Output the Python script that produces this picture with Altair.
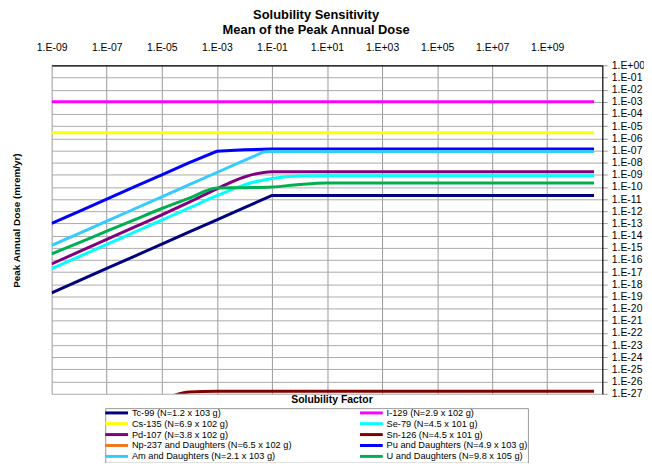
import altair as alt
import pandas as pd

# ---- data ----
# legend order (column-major, 2 columns)
series_names = [
    "Tc-99 (N=1.2 x 103 g)", "Cs-135 (N=6.9 x 102 g)", "Pd-107 (N=3.8 x 102 g)",
    "Np-237 and Daughters (N=6.5 x 102 g)", "Am and Daughters (N=2.1 x 103 g)",
    "I-129 (N=2.9 x 102 g)", "Se-79 (N=4.5 x 101 g)", "Sn-126 (N=4.5 x 101 g)",
    "Pu and Daughters (N=4.9 x 103 g)", "U and Daughters (N=9.8 x 105 g)",
]
series_colors = ["#000080", "#FFFF00", "#800080", "#F07820", "#33CCFF",
                 "#FF00FF", "#00FFFF", "#800000", "#0000FF", "#00B050"]

solubility = [1e-9, 1e-8, 1e-7, 1e-6, 1e-5, 1e-4, 1e-3, 1e-2, 1e-1, 1e0, 1e1,
              1e2, 1e3, 1e4, 1e5, 1e6, 1e7, 1e8, 1e9, 1e10, 5e10]
solubility_am = [1e-9, 1e-8, 1e-7, 1e-6, 1e-5, 1e-4, 1e-3, 1e-2, 5e-2, 1e-1, 1e0,
                 1e1, 1e2, 1e3, 1e4, 1e5, 1e6, 1e7, 1e8, 1e9, 1e10, 5e10]
solubility_sn = [1e-5, 1e-4, 1e-3, 1e-2, 1e-1, 1e0, 1e1, 1e2, 1e3, 1e4, 1e5,
                 1e6, 1e7, 1e8, 1e9, 1e10, 5e10]

tc99 = [2e-19, 2e-18, 2e-17, 2e-16, 2e-15, 2e-14, 2e-13, 2e-12, 2e-11, 2e-11, 2e-11,
        2e-11, 2e-11, 2e-11, 2e-11, 2e-11, 2e-11, 2e-11, 2e-11, 2e-11, 2e-11]
i129 = [1e-3] * 21
cs135 = [2.9e-6] * 21
se79 = [1.9e-17, 1.9e-16, 1.9e-15, 1.9e-14, 1.9e-13, 1.9e-12, 1.9e-11, 1.5e-10, 5e-10,
        8e-10, 8.5e-10, 8.5e-10, 8.5e-10, 8.5e-10, 8.5e-10, 8.5e-10, 8.5e-10, 8.5e-10,
        8.5e-10, 8.5e-10, 8.5e-10]
pd107 = [4.7e-17, 4.8e-16, 4.9e-15, 5e-14, 5.1e-13, 5.6e-12, 7.1e-11, 6.6e-10, 1.8e-9,
         1.8e-9, 1.8e-9, 1.8e-9, 1.8e-9, 1.8e-9, 1.8e-9, 1.8e-9, 1.8e-9, 1.8e-9,
         1.8e-9, 1.8e-9, 1.8e-9]
sn126 = [3e-28, 1.4e-27, 1.6e-27, 1.6e-27, 1.6e-27, 1.6e-27, 1.6e-27, 1.6e-27, 1.6e-27,
         1.6e-27, 1.6e-27, 1.6e-27, 1.6e-27, 1.6e-27, 1.6e-27, 1.6e-27, 1.6e-27]
pu = [1e-13, 1e-12, 1e-11, 1e-10, 1e-9, 1e-8, 8.5e-8, 1.15e-7, 1.3e-7, 1.3e-7, 1.3e-7,
      1.3e-7, 1.3e-7, 1.3e-7, 1.3e-7, 1.3e-7, 1.3e-7, 1.3e-7, 1.3e-7, 1.3e-7, 1.3e-7]
am = [1.55e-15, 1.55e-14, 1.55e-13, 1.55e-12, 1.55e-11, 1.55e-10, 1.55e-9, 1.55e-8,
      7.5e-8, 8.3e-8, 8.3e-8, 8.3e-8, 8.3e-8, 8.3e-8, 8.3e-8, 8.3e-8, 8.3e-8, 8.3e-8,
      8.3e-8, 8.3e-8, 8.3e-8, 8.3e-8]
u = [3.1e-16, 2.7e-15, 2.3e-14, 2e-13, 1.7e-12, 1.2e-11, 8.3e-11, 8.8e-11, 1e-10,
     1.6e-10, 2.1e-10, 2.1e-10, 2.1e-10, 2.1e-10, 2.1e-10, 2.1e-10, 2.1e-10, 2.1e-10,
     2.1e-10, 2.1e-10, 2.1e-10]

x_ticks = [1e-9, 1e-7, 1e-5, 1e-3, 1e-1, 1e1, 1e3, 1e5, 1e7, 1e9]
y_ticks = [10.0 ** -k for k in range(28)]

# ---- build long table (smooth flag: curved series) ----
rows = []
for name, xs, ys, smooth in [
    ("Tc-99 (N=1.2 x 103 g)", solubility, tc99, False),
    ("I-129 (N=2.9 x 102 g)", solubility, i129, False),
    ("Cs-135 (N=6.9 x 102 g)", solubility, cs135, False),
    ("Se-79 (N=4.5 x 101 g)", solubility, se79, True),
    ("Pd-107 (N=3.8 x 102 g)", solubility, pd107, True),
    ("Sn-126 (N=4.5 x 101 g)", solubility_sn, sn126, True),
    ("Pu and Daughters (N=4.9 x 103 g)", solubility, pu, False),
    ("Am and Daughters (N=2.1 x 103 g)", solubility_am, am, False),
    ("U and Daughters (N=9.8 x 105 g)", solubility, u, True),
]:
    for xv, yv in zip(xs, ys):
        rows.append({"series": name, "x": xv, "y": yv, "smooth": smooth})
df = pd.DataFrame(rows)

FONT = "Liberation Sans"
exp_label = ("'1.E' + (round(log(datum.value)/LN10) < 0 ? '-' : '+') + "
             "(abs(round(log(datum.value)/LN10)) < 10 ? '0' : '') + "
             "abs(round(log(datum.value)/LN10))")
pad = "\u00a0" * 9

x_enc = alt.X("x:Q",
              scale=alt.Scale(type="log", domain=[1e-9, 1e11], nice=False),
              axis=alt.Axis(orient="top", values=x_ticks, labelExpr=exp_label,
                            labelFlush=False, labelOverlap=False,
                            grid=True, gridColor="#999999", gridWidth=1,
                            ticks=False, tickSize=0, labelPadding=13,
                            labelFont=FONT, labelFontSize=10.5, labelColor="black",
                            domainColor="black", domainWidth=1.2,
                            title="Solubility Factor", titleFont=FONT, titleFontSize=10.5,
                            titleFontWeight="bold", titleColor="black",
                            titleX=282, titleY=337, titleBaseline="middle"))
y_enc = alt.Y("y:Q",
              scale=alt.Scale(type="log", domain=[1e-27, 1], nice=False),
              axis=alt.Axis(orient="right", values=y_ticks, labelExpr=exp_label,
                            labelFlush=False, labelOverlap=False,
                            grid=True, gridColor="#AAAAAA", gridWidth=1,
                            ticks=True, tickSize=5, tickColor="#999999", labelPadding=4,
                            labelFont=FONT, labelFontSize=10.5, labelColor="black",
                            domainColor="black", domainWidth=1.2,
                            title="Peak Annual Dose (mrem/yr)", titleFont=FONT,
                            titleFontSize=10, titleFontWeight="bold", titleColor="black",
                            titleAngle=270, titleX=-590, titleY=156,
                            titleBaseline="middle", titleAlign="center"))
c_enc = alt.Color("series:N",
                  scale=alt.Scale(domain=series_names, range=series_colors),
                  legend=alt.Legend(orient="none", legendX=54, legendY=345.5,
                                    columns=2, symbolType="M-4,0H4", symbolSize=33,
                                    symbolStrokeWidth=3, symbolOffset=6.85,
                                    labelFont=FONT, labelFontSize=9.3, labelColor="black",
                                    labelOffset=10.7, rowPadding=-4.3, columnPadding=62.7,
                                    labelLimit=400, strokeColor="#999999",
                                    padding=0, title=None,
                                    labelExpr="datum.label + '" + pad + "'"))

base = alt.Chart(df).encode(x=x_enc, y=y_enc, color=c_enc)
straight = base.mark_line(strokeWidth=3, clip=True).transform_filter("!datum.smooth")
curved = base.mark_line(strokeWidth=3, clip=True, interpolate="monotone").transform_filter("datum.smooth")

chart = alt.layer(straight, curved).properties(
    width=555,
    height=331,
    title=alt.TitleParams(["Solubility Sensitivity", "Mean of the Peak Annual Dose"],
                          font=FONT, fontSize=13, fontWeight="bold", color="black",
                          anchor="middle", dx=-11, offset=6, lineHeight=14.5),
    autosize=alt.AutoSizeParams(type="none"),
    padding={"left": 44, "top": 56, "right": 42, "bottom": 68},
).configure_view(stroke=None)

chart.save("out.html", embed_options={"renderer": "svg", "actions": False})
